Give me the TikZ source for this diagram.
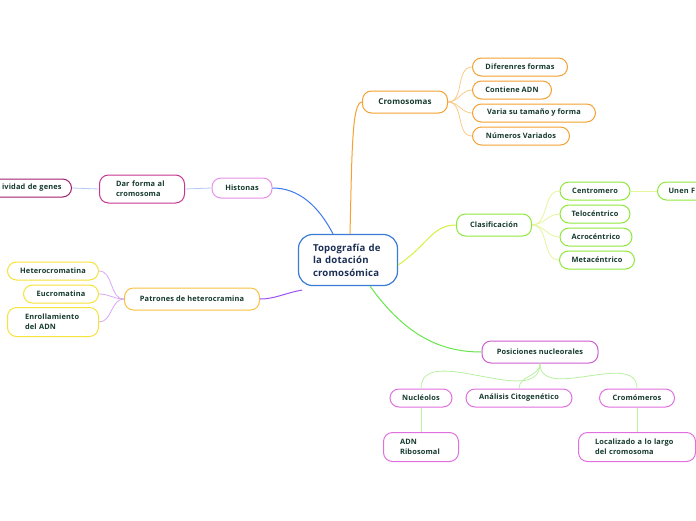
\documentclass[tikz,border=0pt]{standalone}
\usepackage{fontspec}
\setmainfont{Open Sans}[LetterSpace=2]
\definecolor{txt}{HTML}{163A2D}
\definecolor{cenb}{HTML}{3A7BD5}
\definecolor{centxt}{HTML}{1B2F55}
\definecolor{orB}{HTML}{F5A030}
\definecolor{orL}{HTML}{FBC98A}
\definecolor{grB}{HTML}{8EE83C}
\definecolor{ygC}{HTML}{D5F03C}
\definecolor{ygL}{HTML}{E5F59A}
\definecolor{pkB}{HTML}{D05CD0}
\definecolor{pkL}{HTML}{E070E0}
\definecolor{grC}{HTML}{66E64A}
\definecolor{grL}{HTML}{B8F0A0}
\definecolor{hiB}{HTML}{E890E8}
\definecolor{daB}{HTML}{C8358F}
\definecolor{acB}{HTML}{A01E70}
\definecolor{blC}{HTML}{3C78F0}
\definecolor{blL}{HTML}{B4C8F4}
\definecolor{paB}{HTML}{F8C040}
\definecolor{yeB}{HTML}{F5E23A}
\definecolor{puC}{HTML}{A050F0}
\definecolor{puL}{HTML}{D8A8F5}
\tikzset{
  box/.style={draw, rounded corners=9pt, line width=1pt, fill=white, text=txt,
    font=\fontsize{7.4}{10}\selectfont\bfseries, inner sep=0pt, minimum height=18pt, align=center},
  conn/.style={line width=1pt},
  thin/.style={line width=0.8pt}
}
\begin{document}
\begin{tikzpicture}[x=1pt,y=-1pt]
\path[use as bounding box] (0,0) rectangle (696,520);
\clip (0,0) rectangle (696,520);
% center
\node[box, draw=cenb, line width=1.2pt, rounded corners=14pt, minimum width=99pt, minimum height=51pt,
  text width=70pt, align=left, text=centxt, font=\fontsize{9.6}{12.5}\selectfont\bfseries] (cen) at (348,260)
  {Topografía de\\la dotación\\cromosómica};
% Cromosomas branch
\node[box, draw=orB, minimum width=85pt, minimum height=22pt, font=\fontsize{8}{10}\selectfont\bfseries] (crom) at (405,102) {Cromosomas};
\node[box, draw=orB, minimum width=95pt] (o1) at (520,67) {Diferenres formas};
\node[box, draw=orB, minimum width=79pt] (o2) at (512,90) {Contiene ADN};
\node[box, draw=orB, minimum width=123pt] (o3) at (534,113) {Varia su tamaño y forma};
\node[box, draw=orB, minimum width=97pt] (o4) at (521,136) {Números Variados};
% Clasificacion branch
\node[box, draw=grB, minimum width=75pt, minimum height=22pt] (cla) at (494,225) {Clasificación};
\node[box, draw=grB, minimum width=70pt] (g1) at (595,191) {Centromero};
\node[box, draw=grB, minimum width=70pt] (g2) at (595,214) {Telocéntrico};
\node[box, draw=grB, minimum width=72pt] (g3) at (596,237) {Acrocéntrico};
\node[box, draw=grB, minimum width=75pt] (g4) at (597,260) {Metacéntrico};
\node[box, draw=grB, minimum width=70pt, anchor=west, align=left, inner xsep=11pt, text width=48pt] (unen) at (657,191) {Unen F};
% Posiciones branch
\node[box, draw=pkB, minimum width=116pt, minimum height=22pt] (pos) at (540,352) {Posiciones nucleorales};
\node[box, draw=pkL, minimum width=62pt] (nuc) at (421,398) {Nucléolos};
\node[box, draw=pkL, minimum width=106pt] (ana) at (519,398) {Análisis Citogenético};
\node[box, draw=pkL, minimum width=75pt] (crm) at (637,398) {Cromómeros};
\node[box, draw=pkL, minimum width=75pt, minimum height=29pt, text width=42pt, align=left] (adn) at (421,447) {ADN\\Ribosomal};
\node[box, draw=pkL, minimum width=117pt, minimum height=29pt, text width=84pt, align=left] (loc) at (637,447) {Localizado a lo largo\\del cromosoma};
% Histonas branch
\node[box, draw=hiB, minimum width=60pt, minimum height=20pt] (his) at (242,188) {Histonas};
\node[box, draw=daB, minimum width=85pt, minimum height=28pt, text width=52pt, align=left] (dar) at (142,189) {Dar forma al\\cromosoma};
\node[box, draw=acB, anchor=east, text width=100pt, align=right, inner xsep=10pt] (act) at (72,188) {ividad de genes};
% Patrones branch
\node[box, draw=paB, minimum width=135pt, minimum height=22pt] (pat) at (192,299) {Patrones de heterocramina};
\node[box, draw=yeB, minimum width=91pt] (h1) at (53,271) {Heterocromatina};
\node[box, draw=yeB, minimum width=75pt] (h2) at (61,294) {Eucromatina};
\node[box, draw=yeB, minimum width=91pt, minimum height=29pt, text width=56pt, align=left] (h3) at (53,322) {Enrollamiento\\del ADN};
% connectors
\draw[conn, orB] ([xshift=2pt]cen.north) .. controls (352,150) and (352,102) .. (crom.west);
\draw[conn, ygC] ([yshift=-5pt]cen.east) .. controls (428,245) and (432,225) .. (cla.west);
\draw[conn, grC] ([xshift=22pt]cen.south) .. controls (405,335) and (440,352) .. (pos.west);
\draw[conn, blC] ([xshift=-15pt]cen.north) .. controls (318,205) and (298,188) .. (his.east);
\draw[conn, puC] ([xshift=-46pt,yshift=-4pt]cen.south) .. controls (285,293) and (275,299) .. (pat.east);
\foreach \c in {o1,o2,o3,o4}{\draw[thin, orL] (crom.east) to[out=0,in=180] (\c.west);}
\foreach \c in {g1,g2,g3,g4}{\draw[thin, ygL] (cla.east) to[out=0,in=180] (\c.west);}
\draw[thin, ygL] (g1.east) -- (unen.west);
\foreach \c in {nuc,ana,crm}{\draw[thin, grL] (pos.south) to[out=-90,in=90] (\c.north);}
\draw[thin, grL] (nuc.south) -- (adn.north);
\draw[thin, grL] (crm.south) -- (loc.north);
\draw[thin, blL] (his.west) -- (dar.east);
\draw[thin, blL] (dar.west) -- (act.east);
\foreach \c in {h1,h2,h3}{\draw[thin, puL] (pat.west) to[out=180,in=0] (\c.east);}
\end{tikzpicture}
\end{document}
